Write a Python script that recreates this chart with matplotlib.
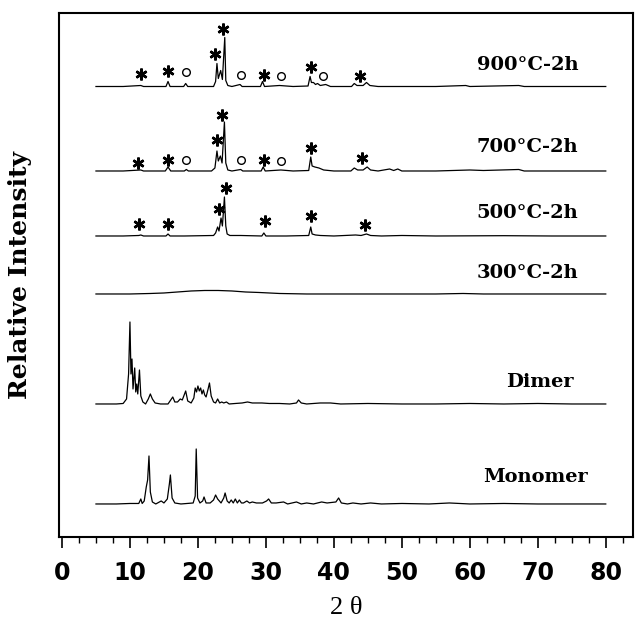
import matplotlib
matplotlib.use("Agg")
import matplotlib.pyplot as plt
from matplotlib.ticker import MultipleLocator


# ======================================================
# DATA  (2-theta, intensity above each trace's baseline)
# ======================================================
monomer = [(5, 0), (8, 0), (10, 0.5), (11.3, 0.5), (11.6, 5), (11.8, 0.5), (12.1, 3),
           (12.4, 17), (12.6, 24), (12.8, 48), (13.0, 12), (13.3, 2), (13.8, 0),
           (14.6, 3), (15.0, 1), (15.5, 5), (15.8, 20), (15.95, 29), (16.2, 6),
           (16.6, 1), (17.5, 0), (19.3, 1), (19.6, 8), (19.75, 55), (19.95, 6),
           (20.3, 1), (20.7, 3), (20.9, 7), (21.2, 1), (21.8, 1), (22.3, 4),
           (22.6, 9), (22.9, 5), (23.4, 1), (23.8, 6), (24.0, 11), (24.3, 3),
           (24.6, 1), (24.9, 4), (25.2, 1), (25.5, 5), (25.8, 1), (26.1, 4),
           (26.4, 1), (26.7, 1), (27.2, 3), (27.6, 1), (28.0, 2), (28.6, 1),
           (29.5, 1), (30.1, 3), (30.4, 5), (30.8, 1), (31.5, 1), (32.6, 2),
           (33.2, 0), (34.5, 2), (35.2, 0), (36.0, 1), (37.0, 0), (38.2, 2),
           (39.0, 1), (40.3, 2), (40.7, 6), (41.1, 1), (42.0, 0), (42.8, 1),
           (44.0, 0), (45.4, 1), (47, 0), (50, 0.5), (54, 0), (57, 1), (60, 0),
           (65, 0.5), (70, 0), (75, 0), (80, 0)]

dimer = [(5, 0), (8, 0), (9.0, 0.5), (9.5, 5), (9.8, 30), (10.0, 82), (10.15, 30),
         (10.3, 45), (10.45, 15), (10.7, 36), (10.85, 12), (11.0, 20), (11.15, 10),
         (11.4, 34), (11.6, 8), (11.9, 2), (12.3, 0), (12.7, 5), (13.0, 10),
         (13.3, 5), (13.7, 1), (14.5, 0), (15.6, 0), (16.0, 4), (16.3, 7),
         (16.6, 2), (17.0, 2), (17.4, 5), (17.7, 4), (18.2, 13), (18.5, 3),
         (19.0, 1), (19.4, 6), (19.6, 16), (19.8, 12), (20.0, 18), (20.2, 13),
         (20.4, 16), (20.6, 10), (20.8, 14), (21.0, 9), (21.2, 7), (21.5, 15),
         (21.7, 21), (21.95, 8), (22.3, 2), (22.6, 1), (22.9, 5), (23.2, 1),
         (23.5, 2), (23.8, 1), (24.2, 2), (24.6, 0), (25.5, 0.5), (26.5, 1),
         (27.3, 2), (28.0, 1), (29.4, 1), (30.5, 0.5), (32.0, 0.5), (33.5, 0),
         (34.5, 1), (34.8, 4), (35.2, 1), (36, 0), (38, 1), (39.5, 1), (41, 0),
         (45, 0.5), (50, 0), (55, 0), (60, 0.5), (65, 0), (70, 0.5), (75, 0),
         (80, 0)]

t300 = [(5, 0), (10, 0), (13, 0.5), (15, 1), (17, 2), (19, 3), (21, 3.5), (23, 3.5),
        (25, 3), (27, 2), (29, 1.5), (32, 0.5), (36, 0), (45, 0), (55, 0),
        (59, 0.5), (62, 0), (70, 0), (80, 0)]

t500 = [(5, 0), (9, 0), (11.3, 0.5), (11.6, 1), (12, 0), (15.3, 0), (15.6, 2),
        (15.9, 0), (18, 0), (22.3, 0.5), (22.6, 3), (22.9, 9), (23.1, 5),
        (23.4, 18), (23.6, 10), (23.9, 39), (24.1, 10), (24.3, 2), (24.7, 0.5),
        (26.3, 0.5), (29.4, 0), (29.7, 3), (30.0, 0), (33, 0), (36.3, 0.5),
        (36.6, 9), (36.8, 2), (37.3, 1), (38, 0.5), (40, 0), (43.2, 1),
        (44.0, 0.5), (44.8, 2), (45.4, 0.5), (47, 0), (50, 0.5), (55, 0),
        (65, 0.3), (72, 0), (80, 0)]

t700 = [(5, 0), (9, 0), (11.6, 1), (12, 0), (15.2, 0), (15.6, 4), (16.0, 0),
        (18.0, 0), (18.3, 1.5), (18.6, 0), (22.0, 0), (22.5, 3), (22.8, 20),
        (23.0, 10), (23.3, 15), (23.55, 8), (23.9, 49), (24.1, 8), (24.4, 1),
        (25, 0), (26.3, 1.5), (26.6, 0), (29.3, 0), (29.6, 4), (29.9, 0),
        (32.2, 1), (34, 0), (36.3, 0.5), (36.6, 14), (36.8, 5), (37.2, 4),
        (37.8, 3), (38.5, 1), (40, 0), (42.5, 0), (43.0, 3), (43.5, 1),
        (44.3, 1), (44.9, 4), (45.4, 1), (46.5, 0), (48.2, 2), (48.8, 0.5),
        (49.4, 2), (50.0, 0), (55, 0), (60, 1), (62, 0.5), (67.2, 1.5),
        (68, 0), (75, 0), (80, 0)]

t900 = [(5, 0), (9, 0), (11.6, 1), (12, 0), (15.3, 0), (15.6, 5), (15.9, 0),
        (17.9, 0), (18.2, 3), (18.5, 0), (22.3, 0), (22.6, 5), (22.8, 23),
        (23.0, 8), (23.35, 16), (23.6, 7), (23.95, 49), (24.1, 6), (24.4, 1),
        (25, 0), (26.2, 2), (26.5, 0), (29.2, 0), (29.5, 5), (29.8, 0),
        (32.0, 1), (34, 0), (36.2, 0.5), (36.5, 10), (36.7, 4), (37.0, 4),
        (37.3, 2), (37.6, 3), (38.0, 1), (38.8, 2), (39.5, 0), (42.6, 0),
        (43.0, 3), (43.4, 1), (44.3, 1), (44.8, 4), (45.3, 1), (46.5, 0),
        (50, 0), (55, 0), (59.4, 1), (60, 0), (67.2, 1), (68, 0), (75, 0),
        (80, 0)]

# trace name, data, baseline offset
trace_names = ["900°C-2h", "700°C-2h", "500°C-2h", "300°C-2h", "Dimer", "Monomer"]
trace_data = [t900, t700, t500, t300, dimer, monomer]
trace_offsets = [450.5, 366, 301, 243, 133, 33]
label_pos = [(68.5, 472), (68.5, 390), (68.5, 324), (68.5, 264), (70.3, 155), (69.6, 60)]

# phase markers (2-theta, height above baseline)
stars = {
    "900°C-2h": [(11.6, 12.5), (15.6, 15.5), (22.5, 32), (23.7, 57), (29.7, 11.5),
                 (36.7, 19), (43.8, 10)],
    "700°C-2h": [(11.2, 8.4), (15.6, 10.7), (22.8, 30.7), (23.6, 56.4), (29.7, 11.4),
                 (36.7, 23), (44.1, 13)],
    "500°C-2h": [(11.3, 11.7), (15.6, 11.7), (23.1, 26.7), (24.1, 47.7), (29.8, 15),
                 (36.6, 20), (44.6, 10.7)],
}
circles = {
    "900°C-2h": [(18.2, 14), (26.3, 11.5), (32.2, 10), (38.4, 10.5)],
    "700°C-2h": [(18.3, 11.4), (26.3, 11.4), (32.2, 9.7)],
}

# ======================================================
# PLOT
# ======================================================
fig = plt.figure(figsize=(6.36, 6.22), dpi=100)
ax = fig.add_axes([0.0921, 0.1367, 0.9031, 0.8424])

for name, data, off in zip(trace_names, trace_data, trace_offsets):
    xs = [p[0] for p in data]
    ys = [p[1] + off for p in data]
    ax.plot(xs, ys, color="black", linewidth=0.9)

for name, (lx, ly) in zip(trace_names, label_pos):
    ax.text(lx, ly, name, ha="center", va="center", fontsize=14,
            fontweight="bold", family="DejaVu Serif")

for name, pts in stars.items():
    off = trace_offsets[trace_names.index(name)]
    ax.plot([p[0] for p in pts], [p[1] + off for p in pts], linestyle="none",
            marker=(6, 2, 0), markersize=8.5, markeredgewidth=1.8, color="black")

for name, pts in circles.items():
    off = trace_offsets[trace_names.index(name)]
    ax.plot([p[0] for p in pts], [p[1] + off for p in pts], linestyle="none",
            marker="o", markersize=5.5, markerfacecolor="white",
            markeredgecolor="black", markeredgewidth=1.0)

ax.set_xlim(-0.5, 84)
ax.set_ylim(0, 524)
ax.set_yticks([])

ax.xaxis.set_major_locator(MultipleLocator(10))
ax.xaxis.set_minor_locator(MultipleLocator(2.5))
ax.tick_params(axis="x", which="major", direction="out", length=8, width=1.2,
               pad=9, labelsize=17)
ax.tick_params(axis="x", which="minor", direction="out", length=4, width=1.0)
for lab in ax.get_xticklabels():
    lab.set_fontweight("bold")

for s in ax.spines.values():
    s.set_linewidth(1.5)

ax.set_xlabel("2 θ", fontsize=19, family="Liberation Serif", labelpad=9)
ax.set_ylabel("Relative Intensity", fontsize=18, fontweight="bold",
              family="DejaVu Serif", labelpad=19)

fig.savefig("out.png", dpi=100)
